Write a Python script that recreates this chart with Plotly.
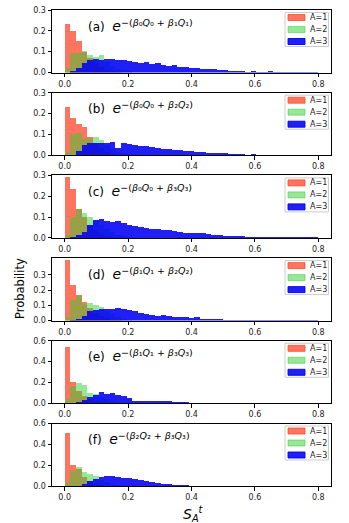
import plotly.graph_objects as go
from plotly.subplots import make_subplots

# histogram bins: 45 equal bins on [0, 0.8]
n_bins = 45
bin_w = 0.8 / n_bins

panel_tags = ["(a)", "(b)", "(c)", "(d)", "(e)", "(f)"]
panel_terms = [("0", "1"), ("0", "2"), ("0", "3"), ("1", "2"), ("1", "3"), ("2", "3")]
series_names = ["A=1", "A=2", "A=3"]

red_a = [0.233, 0.20, 0.15, 0.10, 0.07, 0.045, 0.025, 0.012, 0.005, 0.002]
green_a = [0.02, 0.093, 0.094, 0.102, 0.085, 0.075, 0.085, 0.05, 0.03, 0.018, 0.01, 0.005]
blue_a = [0, 0.005, 0.02, 0.045, 0.06, 0.065, 0.06, 0.065, 0.066, 0.062, 0.058, 0.055, 0.05,
          0.045, 0.05, 0.04, 0.045, 0.035, 0.032, 0.035, 0.028, 0.025, 0.024, 0.02, 0.019,
          0.018, 0.015, 0.014, 0.01, 0.007, 0.005, 0.005, 0.004, 0.006, 0.004, 0.003, 0.005,
          0.003, 0.004, 0.003, 0.003, 0.004, 0.002, 0.003, 0.002]

red_b = [0.232, 0.18, 0.15, 0.135, 0.09, 0.06, 0.035, 0.018, 0.008, 0.003]
green_b = [0.015, 0.105, 0.106, 0.08, 0.08, 0.087, 0.075, 0.05, 0.03, 0.018, 0.01, 0.005]
blue_b = [0, 0.003, 0.02, 0.05, 0.06, 0.062, 0.06, 0.06, 0.065, 0.035, 0.06, 0.055, 0.052,
          0.048, 0.045, 0.04, 0.038, 0.033, 0.03, 0.028, 0.025, 0.022, 0.02, 0.017, 0.015,
          0.012, 0.012, 0.01, 0.01, 0.008, 0.006, 0.006, 0.004, 0.005, 0.003, 0.003, 0.002,
          0.002, 0.003, 0.002, 0.002, 0.003, 0.002, 0.002, 0.002]

red_c = [0.29, 0.232, 0.135, 0.10, 0.06, 0.035, 0.018, 0.008, 0.003]
green_c = [0.01, 0.10, 0.138, 0.12, 0.10, 0.085, 0.06, 0.04, 0.025, 0.013, 0.006, 0.003]
blue_c = [0, 0.002, 0.01, 0.025, 0.06, 0.082, 0.088, 0.078, 0.075, 0.078, 0.07, 0.062, 0.055,
          0.05, 0.045, 0.042, 0.04, 0.035, 0.037, 0.03, 0.028, 0.024, 0.022, 0.02, 0.02,
          0.015, 0.012, 0.01, 0.008, 0.006, 0.005, 0.005, 0.004, 0.003, 0.003, 0.004, 0.003,
          0.002, 0.002, 0.002, 0.001, 0.002, 0.001, 0.001, 0.001]

red_d = [0.395, 0.235, 0.17, 0.12, 0.08, 0.05, 0.03, 0.015, 0.006, 0.002]
green_d = [0.02, 0.136, 0.164, 0.11, 0.114, 0.10, 0.09, 0.06, 0.04, 0.025, 0.012, 0.006]
blue_d = [0, 0.002, 0.01, 0.03, 0.06, 0.07, 0.077, 0.075, 0.075, 0.08, 0.078, 0.07, 0.06,
          0.048, 0.04, 0.035, 0.032, 0.033, 0.03, 0.025, 0.022, 0.02, 0.016, 0.02, 0.012,
          0.01, 0.009, 0.008, 0.006, 0.005, 0.005, 0.004, 0.003, 0.004, 0.003, 0.003, 0.002,
          0.003, 0.002, 0.002, 0.002, 0.001, 0.002, 0.001, 0.001]

red_e = [0.54, 0.205, 0.12, 0.07, 0.04, 0.02, 0.01, 0.004]
green_e = [0.04, 0.17, 0.195, 0.175, 0.10, 0.09, 0.06, 0.04, 0.02, 0.01, 0.005]
blue_e = [0, 0.003, 0.01, 0.03, 0.065, 0.08, 0.115, 0.095, 0.10, 0.085, 0.07, 0.05, 0.025,
          0.025, 0.028, 0.025, 0.022, 0.02, 0.02, 0.015, 0.012, 0.01, 0.008, 0.006, 0.002,
          0.002, 0.001, 0.002, 0.001, 0.001, 0.002, 0.001, 0.001, 0.001, 0.001, 0.001, 0.001,
          0.001, 0.001, 0.001, 0.001, 0.001, 0.001, 0.001, 0.001]

red_f = [0.51, 0.206, 0.17, 0.09, 0.05, 0.025, 0.012, 0.005]
green_f = [0.04, 0.152, 0.184, 0.14, 0.12, 0.098, 0.06, 0.04, 0.02, 0.01, 0.005]
blue_f = [0, 0.002, 0.008, 0.02, 0.05, 0.07, 0.09, 0.105, 0.098, 0.09, 0.085, 0.078, 0.07,
          0.06, 0.05, 0.042, 0.035, 0.028, 0.022, 0.018, 0.014, 0.01, 0.008, 0.006, 0.004,
          0.003, 0.003, 0.002, 0.002, 0.002, 0.001, 0.002, 0.001, 0.001, 0.001, 0.001, 0.002,
          0.001, 0.001, 0.001, 0.001, 0.001, 0.001, 0.001, 0.001]

panels = [
    (red_a, green_a, blue_a),
    (red_b, green_b, blue_b),
    (red_c, green_c, blue_c),
    (red_d, green_d, blue_d),
    (red_e, green_e, blue_e),
    (red_f, green_f, blue_f),
]
y_max = [0.3, 0.3, 0.3, 0.41, 0.6, 0.6]
y_ticks = [[0, 0.1, 0.2, 0.3]] * 4 + [[0, 0.2, 0.4, 0.6]] * 2

colors = ["rgba(255,70,40,0.75)", "rgba(50,205,50,0.5)", "rgba(0,0,245,0.88)"]
FONT = "DejaVu Sans"
SUBS = "₀₁₂₃"

W, H = 349, 523
ml, mr, mt, mb = 52, 18, 10, 37
plot_h = H - mt - mb
plot_w = W - ml - mr

fig = make_subplots(rows=6, cols=1, vertical_spacing=20.2 / plot_h)

for k, series in enumerate(panels):
    row = k + 1
    for s, vals in enumerate(series):
        xs = [(i + 0.5) * bin_w for i in range(len(vals))]
        fig.add_trace(go.Bar(x=xs, y=vals, width=bin_w, name=series_names[s],
                             marker=dict(color=colors[s], line=dict(width=0)),
                             showlegend=False), row=row, col=1)
    fig.update_xaxes(range=[-0.04, 0.84], tickvals=[0, 0.2, 0.4, 0.6, 0.8],
                     ticktext=["0.0", "0.2", "0.4", "0.6", "0.8"], row=row, col=1)
    fig.update_yaxes(range=[0, y_max[k]], tickvals=y_ticks[k],
                     ticktext=["%.1f" % t for t in y_ticks[k]], row=row, col=1)

axis_style = dict(showline=True, mirror=True, linecolor="black", linewidth=1,
                  ticks="outside", ticklen=3.5, tickcolor="black", showgrid=False,
                  zeroline=False, automargin=False, tickfont=dict(size=8, color="#222"))
fig.update_xaxes(**axis_style)
fig.update_yaxes(**axis_style)


def px_x(p):
    return (p - ml) / plot_w


def px_y(p):
    return 1 - (p - mt) / plot_h


for k in range(6):
    yax = fig.layout["yaxis" if k == 0 else "yaxis%d" % (k + 1)]
    top_px = mt + (1 - yax.domain[1]) * plot_h

    # legend box drawn by hand (matplotlib-like compact legend)
    fig.add_shape(type="rect", xref="paper", yref="paper",
                  x0=px_x(285), x1=px_x(328.5), y0=px_y(top_px + 36.5), y1=px_y(top_px + 2.5),
                  fillcolor="white", line=dict(color="#cccccc", width=1))
    for s in range(3):
        cy = top_px + 7.5 + 12 * s
        fig.add_shape(type="rect", xref="paper", yref="paper",
                      x0=px_x(288), x1=px_x(305), y0=px_y(cy + 3), y1=px_y(cy - 3),
                      fillcolor=colors[s], line=dict(color=colors[s], width=1))
        fig.add_annotation(x=px_x(308), y=px_y(cy), xref="paper", yref="paper",
                           text=series_names[s], showarrow=False, xanchor="left",
                           yanchor="middle", font=dict(size=8, family=FONT, color="#222"))

    a, b = panel_terms[k]
    txt = ("%s  <span style='font-size:14px'><i>e</i></span>"
           "<sup><span style='font-size:9.5px'>−(<i>β</i>%s<i>Q</i>%s + <i>β</i>%s<i>Q</i>%s)</span></sup>"
           % (panel_tags[k], SUBS[int(a)], SUBS[int(a)], SUBS[int(b)], SUBS[int(b)]))
    xref = "x" if k == 0 else "x%d" % (k + 1)
    fig.add_annotation(x=0.068, y=px_y(top_px + 15), xref=xref, yref="paper", text=txt,
                       showarrow=False, xanchor="left", yanchor="middle",
                       font=dict(size=12, family=FONT, color="black"))

fig.add_annotation(x=px_x(20), y=px_y(289), xref="paper", yref="paper",
                   text="Probability", textangle=-90, showarrow=False,
                   xanchor="center", yanchor="middle",
                   font=dict(size=11.5, family=FONT, color="black"))
fig.add_annotation(x=px_x(193), y=px_y(514), xref="paper", yref="paper",
                   text="<i>S</i><sub><i>A</i></sub><sup><i>t</i></sup>", showarrow=False,
                   xanchor="center", yanchor="middle",
                   font=dict(size=14, family=FONT, color="black"))

fig.update_layout(width=W, height=H, margin=dict(l=ml, r=mr, t=mt, b=mb),
                  barmode="overlay", bargap=0, plot_bgcolor="white", paper_bgcolor="white",
                  font=dict(family=FONT), showlegend=False)

# the page's default body margin would shift the figure by 8px
fig.write_html("out.html", config={"displayModeBar": False},
               post_script="document.body.style.margin='0';")
